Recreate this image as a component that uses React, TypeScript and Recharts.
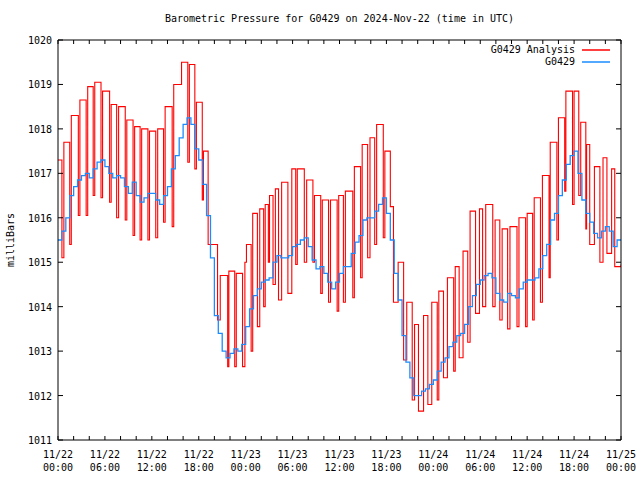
import React from 'react';
import { LineChart, Line, XAxis, YAxis } from 'recharts';

const TITLE = 'Barometric Pressure for G0429 on 2024-Nov-22 (time in UTC)';
const Y_LABEL = 'milliBars';
const SERIES_NAMES = ['G0429 Analysis', 'G0429'];
const SERIES_COLORS = ['#ff0000', '#1a8cff'];
const FONT = '"DejaVu Sans Mono", monospace';

// hours since 11/22 00:00
const tickHours = [0, 2, 4, 6, 8, 10, 12, 14, 16, 18, 20, 22, 24, 26, 28, 30, 32, 34, 36, 38, 40, 42, 44, 46, 48, 50, 52, 54, 56, 58, 60, 62, 64, 66, 68, 70, 72];
const labelHours = [0, 6, 12, 18, 24, 30, 36, 42, 48, 54, 60, 66, 72];
const labelDates = ['11/22', '11/22', '11/22', '11/22', '11/23', '11/23', '11/23', '11/23', '11/24', '11/24', '11/24', '11/24', '11/25'];
const labelTimes = ['00:00', '06:00', '12:00', '18:00', '00:00', '06:00', '12:00', '18:00', '00:00', '06:00', '12:00', '18:00', '00:00'];
const pressureTicks = [1011, 1012, 1013, 1014, 1015, 1016, 1017, 1018, 1019, 1020];

// G0429 observations, one every 30 minutes
const stationValues = [
  1015.5, 1015.7, 1016.0, 1016.5, 1016.7, 1016.85, 1016.95, 1017.0, 1016.9, 1017.1,
  1017.25, 1017.3, 1017.15, 1017.0, 1016.9, 1016.95, 1016.9, 1016.7, 1016.55, 1016.8,
  1016.5, 1016.35, 1016.45, 1016.55, 1016.55, 1016.4, 1016.3, 1016.5, 1016.7, 1017.1,
  1017.4, 1017.8, 1018.1, 1018.25, 1018.1, 1017.55, 1017.3, 1016.75, 1016.05, 1015.1,
  1013.8, 1013.4, 1013.0, 1012.85, 1012.95, 1013.05, 1013.0, 1013.15, 1013.55, 1013.95,
  1014.25, 1014.4, 1014.55, 1014.6, 1014.65, 1015.0, 1015.15, 1015.1, 1015.1, 1015.15,
  1015.35, 1015.4, 1015.5, 1015.55, 1015.35, 1015.05, 1014.85, 1014.9, 1014.75, 1014.55,
  1014.4, 1014.55, 1014.75, 1014.9, 1014.9, 1015.2, 1015.45, 1015.6, 1015.95, 1016.0,
  1016.0, 1016.15, 1016.3, 1016.45, 1016.1, 1015.5, 1014.75, 1014.15, 1013.35, 1012.75,
  1012.4, 1012.0, 1012.0, 1012.1, 1012.15, 1012.25, 1012.35, 1012.55, 1012.75, 1012.85,
  1013.1, 1013.2, 1013.35, 1013.4, 1013.6, 1014.0, 1014.25, 1014.5, 1014.6, 1014.7,
  1014.75, 1014.65, 1014.3, 1014.15, 1014.1, 1014.3, 1014.25, 1014.2, 1014.4, 1014.55,
  1014.6, 1014.6, 1014.65, 1014.85, 1015.15, 1015.4, 1015.95, 1016.1, 1016.5, 1016.85,
  1017.2, 1017.4, 1017.5, 1017.0, 1016.4, 1016.1, 1015.9, 1015.65, 1015.55, 1015.7,
  1015.8, 1015.7, 1015.35, 1015.5, 1015.5,
];

// analysis steps: [hour, mb]
const analysisSteps: [number, number][] = [
  [0, 1017.3],
  [0.5, 1015.1], [0.75, 1017.7],
  [1.5, 1015.4], [1.7, 1018.3],
  [2.6, 1016.05], [2.8, 1018.65],
  [3.6, 1016.05], [3.8, 1018.95],
  [4.5, 1016.5], [4.7, 1019.05],
  [5.5, 1016.45], [5.7, 1018.85],
  [6.6, 1016.35], [6.8, 1018.55],
  [7.5, 1016.0], [7.75, 1018.5],
  [8.6, 1015.95], [8.8, 1018.2],
  [9.6, 1015.6], [9.8, 1018.05],
  [10.5, 1015.5], [10.7, 1018.0],
  [11.5, 1015.5], [11.7, 1017.95],
  [12.5, 1015.55], [12.75, 1018.0],
  [13.5, 1015.9], [13.7, 1018.5],
  [14.6, 1015.8], [14.8, 1019.0],
  [15.8, 1019.5],
  [16.6, 1017.25], [16.8, 1019.45],
  [17.5, 1017.1], [17.7, 1018.6],
  [18.45, 1016.4], [18.6, 1017.5],
  [19.2, 1015.4],
  [20.4, 1013.7], [20.75, 1014.7],
  [21.7, 1012.65], [21.85, 1014.8],
  [22.6, 1012.65], [22.8, 1014.75],
  [23.6, 1012.65], [23.9, 1015.0], [24.1, 1015.4],
  [24.7, 1013.0], [24.9, 1016.1],
  [25.5, 1013.55], [25.8, 1016.2],
  [26.3, 1014.0], [26.5, 1016.3],
  [26.9, 1015.0], [27.05, 1016.5],
  [27.5, 1014.5], [27.8, 1016.65],
  [28.2, 1014.15], [28.6, 1016.8],
  [29.4, 1014.3], [29.9, 1017.1],
  [30.4, 1014.95], [30.6, 1017.1],
  [31.5, 1015.0], [31.8, 1016.85],
  [32.6, 1015.0], [32.8, 1016.5],
  [33.6, 1014.3], [33.8, 1016.4],
  [34.6, 1014.1], [34.85, 1016.4],
  [35.7, 1013.9], [35.9, 1016.5],
  [36.5, 1014.1], [36.75, 1016.6],
  [37.7, 1014.2], [37.9, 1017.15],
  [38.7, 1014.65], [38.9, 1017.65],
  [39.6, 1015.1], [39.9, 1017.8],
  [40.5, 1015.4], [40.75, 1018.1],
  [41.6, 1015.55], [41.8, 1017.5], [42.5, 1016.25],
  [42.9, 1014.1], [43.5, 1015.0],
  [44.2, 1012.8], [44.6, 1014.1],
  [45.3, 1011.9], [45.6, 1013.6],
  [46.1, 1011.65], [46.75, 1013.8],
  [47.3, 1011.8], [47.8, 1014.1],
  [48.5, 1011.9], [48.7, 1014.35],
  [49.3, 1012.4], [49.8, 1014.65],
  [50.6, 1012.55], [50.8, 1014.9],
  [51.3, 1012.85], [51.8, 1015.25],
  [52.4, 1013.2], [52.7, 1016.15],
  [53.4, 1013.85], [53.9, 1016.2],
  [54.3, 1014.0], [54.7, 1016.3],
  [55.6, 1014.0], [55.9, 1015.95],
  [56.5, 1013.7], [56.8, 1015.75],
  [57.5, 1013.5], [57.8, 1015.8],
  [58.7, 1013.55], [58.95, 1016.0],
  [59.8, 1013.55], [60.0, 1016.1],
  [60.7, 1013.7], [60.9, 1016.45],
  [61.7, 1014.1], [61.95, 1016.95],
  [62.8, 1014.65], [62.95, 1017.7],
  [63.8, 1015.5], [64.0, 1018.25],
  [64.8, 1016.6], [64.95, 1018.85],
  [65.8, 1016.3], [66.0, 1018.85],
  [66.6, 1016.5], [66.85, 1018.15],
  [67.5, 1015.75], [67.6, 1017.65],
  [68.0, 1015.4], [68.6, 1017.15],
  [69.3, 1015.0], [69.7, 1017.35],
  [70.2, 1015.2], [70.8, 1017.1],
  [71.2, 1014.9], [72, 1014.95],
];

const stationData = stationValues.map((v, i) => ({ t: i * 0.5, v }));
const analysisData = analysisSteps.map(([t, v]) => ({ t, v }));

const BottomTick = (props: any) => {
  const { x, y, payload } = props;
  const i = labelHours.indexOf(payload.value);
  return (
    <g>
      <line x1={x} x2={x} y1={y} y2={y - 4} stroke="#000" />
      {i >= 0 && (
        <text textAnchor="middle" fontSize={10} fontFamily={FONT} fill="#000">
          <tspan x={x} y={y + 18}>{labelDates[i]}</tspan>
          <tspan x={x} y={y + 31}>{labelTimes[i]}</tspan>
        </text>
      )}
    </g>
  );
};

const TopTick = (props: any) => {
  const { x, y } = props;
  return <line x1={x} x2={x} y1={y} y2={y + 4} stroke="#000" />;
};

const LeftTick = (props: any) => {
  const { x, y, payload } = props;
  return (
    <g>
      <line x1={x} x2={x + 5} y1={y} y2={y} stroke="#000" />
      <text x={x - 6} y={y + 4} textAnchor="end" fontSize={10} fontFamily={FONT} fill="#000">
        {payload.value}
      </text>
    </g>
  );
};

const RightTick = (props: any) => {
  const { x, y } = props;
  return <line x1={x} x2={x - 5} y1={y} y2={y} stroke="#000" />;
};

const axisLine = { stroke: '#000', strokeWidth: 1 };

export default function App() {
  return (
    <div style={{ position: 'absolute', left: 0, top: 0, width: 640, height: 480, background: '#fff', fontFamily: FONT }}>
      <div style={{ position: 'absolute', left: 58, width: 563, top: 12, textAlign: 'center', fontSize: 10, lineHeight: '14px' }}>
        {TITLE}
      </div>
      <div
        style={{
          position: 'absolute', left: 11, top: 240, fontSize: 10, lineHeight: '12px', whiteSpace: 'nowrap',
          transform: 'translate(-50%, -50%) rotate(-90deg)',
        }}
      >
        {Y_LABEL}
      </div>
      <LineChart width={640} height={480} margin={{ top: 20, right: 1, bottom: 0, left: 8 }}>
        <XAxis xAxisId="b" dataKey="t" type="number" domain={[0, 72]} ticks={tickHours} interval={0}
          allowDataOverflow height={40} tickSize={0} tickMargin={0} tickLine={false} axisLine={axisLine} tick={<BottomTick />} />
        <XAxis xAxisId="t" orientation="top" dataKey="t" type="number" domain={[0, 72]} ticks={tickHours} interval={0}
          allowDataOverflow height={20} tickSize={0} tickMargin={0} tickLine={false} axisLine={axisLine} tick={<TopTick />} />
        <YAxis yAxisId="l" type="number" domain={[1011, 1020]} ticks={pressureTicks} interval={0}
          allowDataOverflow width={50} tickSize={0} tickMargin={0} tickLine={false} axisLine={axisLine} tick={<LeftTick />} />
        <YAxis yAxisId="r" orientation="right" type="number" domain={[1011, 1020]} ticks={pressureTicks} interval={0}
          allowDataOverflow width={18} tickSize={0} tickMargin={0} tickLine={false} axisLine={axisLine} tick={<RightTick />} />
        <Line xAxisId="t" yAxisId="r" data={analysisData} dataKey="v" type="stepAfter" name={SERIES_NAMES[0]}
          stroke={SERIES_COLORS[0]} strokeWidth={1.1} dot={false} activeDot={false} isAnimationActive={false} />
        <Line xAxisId="b" yAxisId="l" data={stationData} dataKey="v" type="stepAfter" name={SERIES_NAMES[1]}
          stroke={SERIES_COLORS[1]} strokeWidth={1.3} dot={false} activeDot={false} isAnimationActive={false} />
      </LineChart>
      {SERIES_NAMES.map((name, i) => (
        <div key={name} style={{ position: 'absolute', top: 44 + i * 12, right: 30, display: 'flex', alignItems: 'center', fontSize: 10, lineHeight: '12px' }}>
          <span style={{ marginRight: 7 }}>{name}</span>
          <svg width={28} height={4}>
            <line x1={0} x2={28} y1={2} y2={2} stroke={SERIES_COLORS[i]} strokeWidth={1.5} />
          </svg>
        </div>
      ))}
    </div>
  );
}
